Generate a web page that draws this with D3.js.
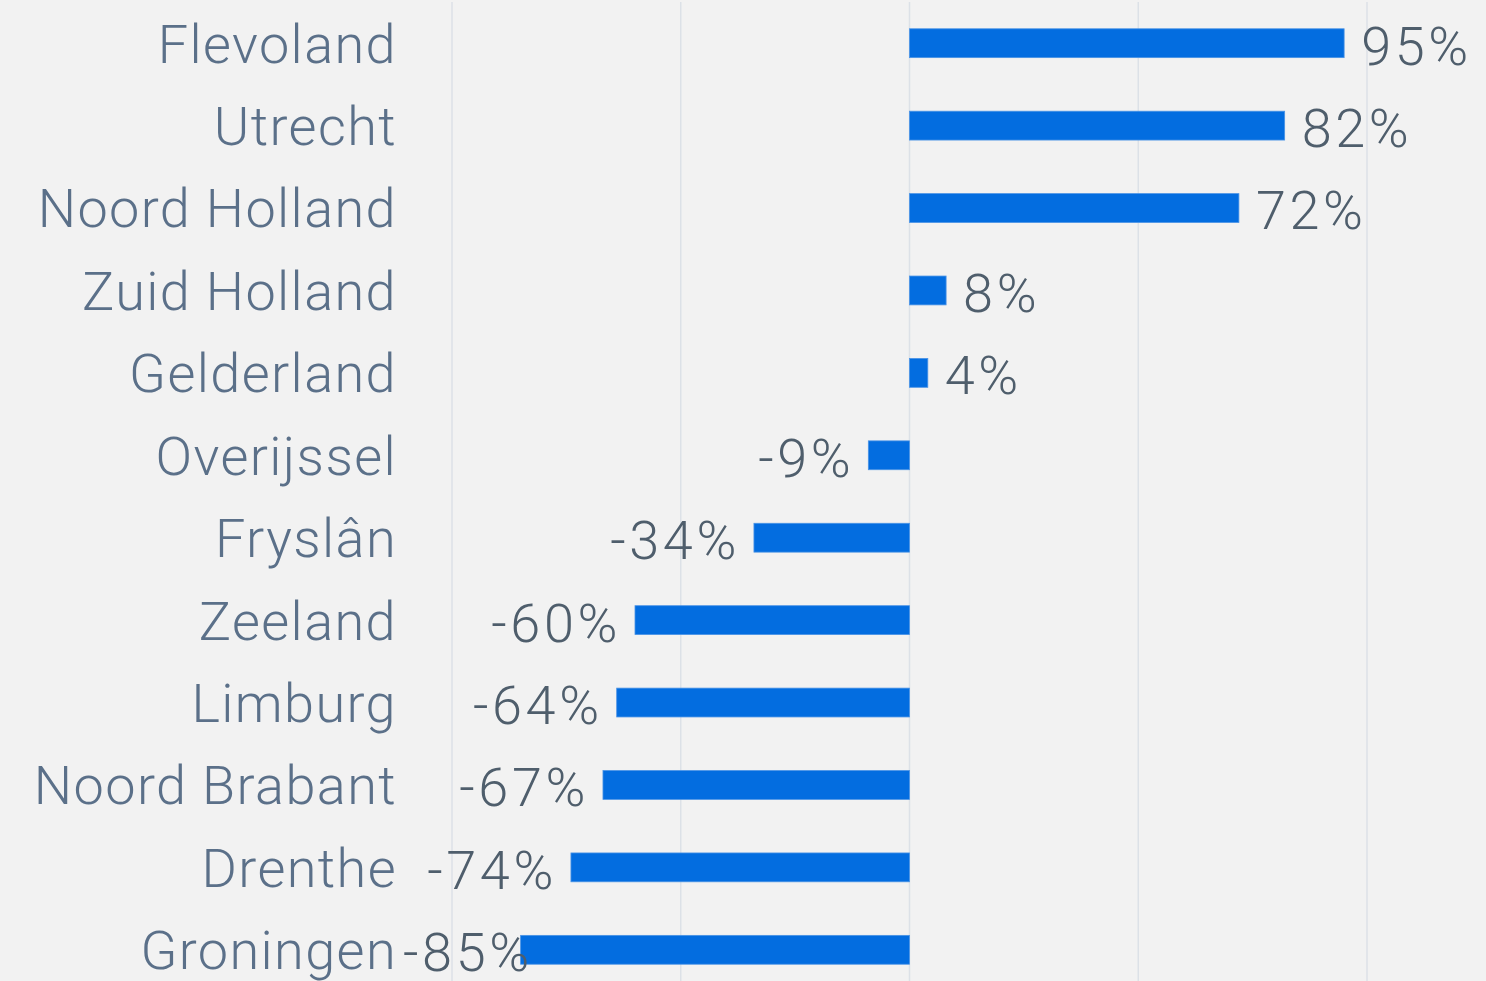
<!DOCTYPE html>
<html>
<head>
<meta charset="utf-8">
<script src="https://cdn.jsdelivr.net/npm/d3@7"></script>
<style>
  body { margin: 0; background: #f2f2f2; }
  svg { display: block; }
  .cat { font-family: Roboto, "Open Sans", sans-serif; font-weight: 300; fill: #5b7089; letter-spacing: 1.4px; }
  .val { font-family: Roboto, "Open Sans", sans-serif; font-weight: 300; fill: #4f5e6c; letter-spacing: 3.6px; }
</style>
</head>
<body>
<div class="chart"></div>
<script>
// provinces, top to bottom
var provinces = ["Flevoland", "Utrecht", "Noord Holland", "Zuid Holland", "Gelderland",
  "Overijssel", "Fryslân", "Zeeland", "Limburg", "Noord Brabant", "Drenthe", "Groningen"];
// change in %
var changes = [95, 82, 72, 8, 4, -9, -34, -60, -64, -67, -74, -85];
var gridTicks = [-100, -50, 0, 50, 100];

var svgWidth = 1486;
var svgHeight = 981;

var margin = { top: 2, right: 119, bottom: 0, left: 452 };

var svg = d3.select(".chart")
  .append("svg")
  .attr("width", svgWidth)
  .attr("height", svgHeight);

svg.append("rect")
  .attr("width", svgWidth)
  .attr("height", svgHeight)
  .attr("fill", "#f2f2f2");

var xScale = d3.scaleLinear()
  .domain([-100, 100])
  .range([margin.left, svgWidth - margin.right]);

var yScale = d3.scaleBand()
  .domain(provinces)
  .range([2, 991])
  .paddingInner(0.65)
  .paddingOuter(0.325);

// gridlines
svg.append("g")
  .selectAll("line")
  .data(gridTicks)
  .enter()
  .append("line")
  .attr("x1", d => xScale(d))
  .attr("x2", d => xScale(d))
  .attr("y1", margin.top)
  .attr("y2", svgHeight)
  .attr("stroke", "#dce1e7")
  .attr("stroke-width", 1.5);

// bars
svg.append("g")
  .selectAll("rect")
  .data(changes)
  .enter()
  .append("rect")
  .attr("x", d => xScale(Math.min(0, d)))
  .attr("y", (d, i) => yScale(provinces[i]))
  .attr("width", d => Math.abs(xScale(d) - xScale(0)))
  .attr("height", yScale.bandwidth())
  .attr("fill", "#036de0")
  .attr("stroke", "#4a93e6")
  .attr("stroke-width", 0.8);

// category labels
svg.append("g")
  .selectAll("text")
  .data(provinces)
  .enter()
  .append("text")
  .classed("cat", true)
  .attr("x", 397)
  .attr("y", d => yScale(d) + yScale.bandwidth() / 2)
  .attr("dy", "0.36em")
  .attr("text-anchor", "end")
  .attr("font-size", 54)
  .text(d => d);

// value labels
svg.append("g")
  .selectAll("text")
  .data(changes)
  .enter()
  .append("text")
  .classed("val", true)
  .attr("y", (d, i) => yScale(provinces[i]) + yScale.bandwidth() / 2 + 2)
  .attr("dy", "0.36em")
  .attr("font-size", 54)
  .attr("text-anchor", d => d >= 0 ? "start" : "end")
  .text(d => d + "%")
  .attr("x", function (d) {
    if (d >= 0) return xScale(d) + 17;
    var x = xScale(d) - 14;
    var w = this.getComputedTextLength();
    // keep the label inside the plot area
    if (x - w < 403) x = 403 + w;
    return x;
  });
</script>
</body>
</html>
